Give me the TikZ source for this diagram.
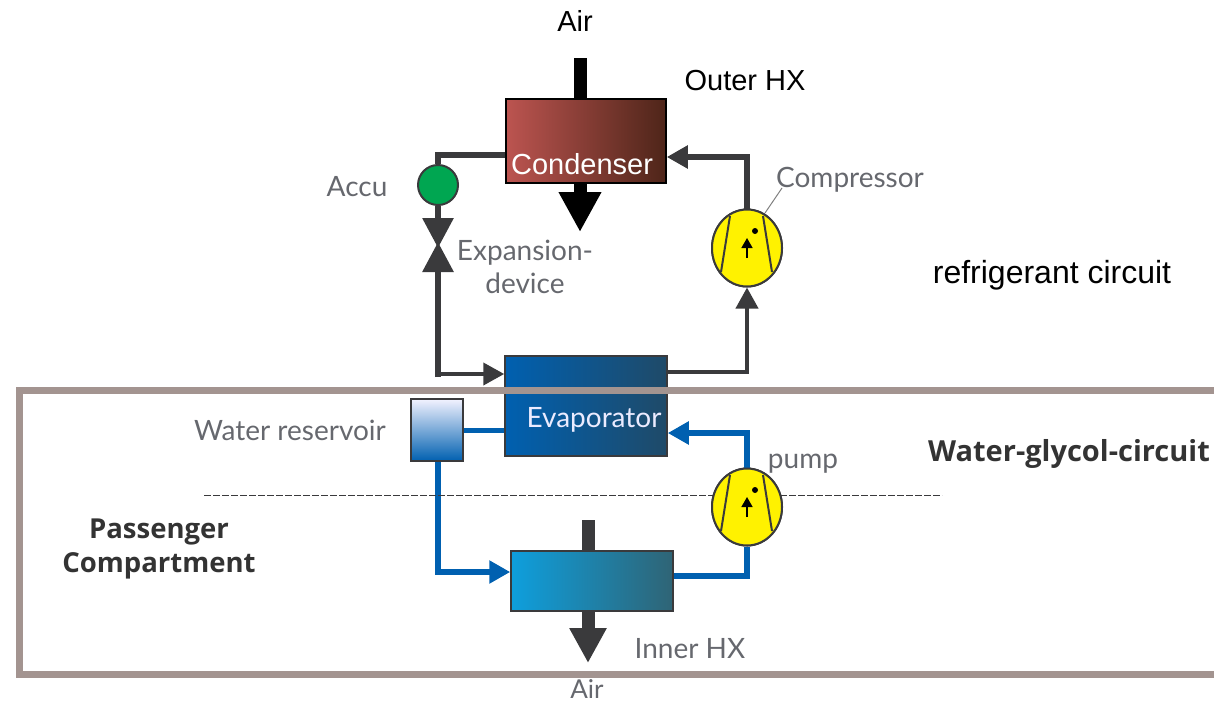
\documentclass[tikz,border=0pt]{standalone}
\usepackage{fontspec}
\setmainfont{Liberation Sans}
\newfontfamily\dinfont{Lato}
\newfontfamily\headfont{Open Sans}
\usetikzlibrary{arrows.meta,calc,positioning,shapes.geometric}
\definecolor{pipegray}{HTML}{3A3A3C}
\definecolor{pipeblue}{HTML}{0060B0}
\definecolor{framegray}{HTML}{A39490}
\definecolor{textgray}{HTML}{66686E}
\definecolor{condleft}{HTML}{BC5450}
\definecolor{condmid}{HTML}{7E2F2C}
\definecolor{condright}{HTML}{4E2519}
\definecolor{evapright}{HTML}{1F4A68}
\definecolor{innerleft}{HTML}{0E9FDD}
\definecolor{innerright}{HTML}{2F6475}
\definecolor{resmid}{HTML}{8C96CC}
\definecolor{pumpyellow}{HTML}{FFF200}
\definecolor{accugreen}{HTML}{00A651}
\tikzset{%
  hx/.style={rectangle,draw=#1,line width=1.5pt,inner sep=0pt,shading angle=90},
  circulator/.style={ellipse,draw=pipegray,line width=2pt,fill=pumpyellow,inner sep=0pt,minimum width=70pt,minimum height=77pt},
  pipe/.style={draw=pipegray,line width=6pt},
  thinpipe/.style={draw=pipegray,line width=4pt},
  bluepipe/.style={draw=pipeblue,line width=6pt},
  smalltip/.style={-{Triangle[length=21pt,width=22pt]}},
  valvetip/.style={-{Triangle[length=30pt,width=30pt]}},
  airstem/.style={line width=13pt},
  plain/.style={font=\fontsize{29}{32}\selectfont,text=black,inner sep=0pt},
  din/.style={font=\dinfont\fontsize{28}{33}\selectfont,text=textgray,inner sep=0pt,align=center},
  dinbold/.style={font=\headfont\bfseries\fontsize{27.5}{34}\selectfont,text=black!80,inner sep=0pt,align=center},
}

\begin{document}
\begin{tikzpicture}[x=1pt,y=-1pt]
      \useasboundingbox (0,0) rectangle (1214,702);

      % exchangers
      \node[hx=black,left color=condleft,middle color=condmid,right color=condright,minimum width=160pt,minimum height=84pt] (condenser) at (586,141) {};
      \node[hx=pipegray,left color=pipeblue,right color=evapright,minimum width=162pt,minimum height=100pt] (evaporator) at (586,406) {};
      \node[hx=pipegray,left color=innerleft,right color=innerright,minimum width=162pt,minimum height=60pt] (innerhx) at (592,581) {};
      \node[rectangle,draw=pipegray,line width=1.5pt,inner sep=0pt,top color=white!95!blue,middle color=resmid,bottom color=pipeblue,minimum width=52pt,minimum height=62pt] (reservoir) at (437,430) {};

      % other parts
      \node[circle,draw=pipegray,line width=2pt,fill=accugreen,inner sep=0pt,minimum size=40pt] (accu) at (438,185) {};
      \coordinate (valve) at (438,245);
      \coordinate (valvefoot) at (438,377);
      \coordinate (inletcorner) at (438,374);
      \node[circulator] (compressor) at (747,248) {};
      \node[circulator] (pump) at (747,507) {};

      % frame and free ends
      \coordinate (frametop) at (1214,390);
      \coordinate (frametopleft) at (19,390);
      \coordinate (framebotleft) at (19,674);
      \coordinate (framebot) at (1214,674);
      \coordinate (dashstart) at (204,495);
      \coordinate (dashend) at (942,495);
      \coordinate (outerin) at (580,58);
      \coordinate (outerout) at (580,232);
      \coordinate (innerin) at (588,520);
      \coordinate (innerout) at (588,663);

      % refrigerant circuit
      \draw[pipe] ([yshift=-14pt]condenser.west) -| (accu);
      \draw[pipe,valvetip] (accu) -- ([yshift=-3pt]valve);
      \draw[pipe,valvetip] (valvefoot) -- ([yshift=3pt]valve);
      \draw[thinpipe,smalltip] (inletcorner) -- ([yshift=32pt]evaporator.west);
      \draw[thinpipe,smalltip] ([yshift=34pt]evaporator.east) -| (compressor);
      \draw[pipe,smalltip] (compressor) |- ([yshift=-16pt]condenser.east);

      % water circuit
      \draw[bluepipe,line width=5pt] (reservoir.east) -- (reservoir.east -| evaporator.west);
      \draw[bluepipe,smalltip] (valve |- reservoir.south) |- ([yshift=9pt]innerhx.west);
      \draw[bluepipe] ([yshift=5pt]innerhx.east) -| (pump);
      \draw[bluepipe,smalltip] (pump) |- ([yshift=-27pt]evaporator.east);

      % air
      \draw[airstem] (outerin) -- (outerin |- condenser.north);
      \draw[airstem,-{Triangle[length=40pt,width=40pt]}] (outerin |- condenser.south) -- (outerout);
      \draw[airstem,draw=pipegray] (innerin) -- (innerin |- innerhx.north);
      \draw[airstem,draw=pipegray,-{Triangle[length=35pt,width=35pt]}] (innerin |- innerhx.south) -- (innerout);

      \draw[framegray,line width=7pt] (frametop) -- (frametopleft) -- (framebotleft) -- (framebot);
      \draw[pipegray,line width=1pt,dash pattern=on 7pt off 2pt] (dashstart) -- (dashend);

      % circulator symbols
      \foreach \unit in {compressor,pump}{
        \begin{scope}[shift={(\unit)}]
          \node[circulator] at (0,0) {};
          \draw[pipegray,line width=2pt] (-17,-32) -- (-26,24);
          \draw[pipegray,line width=2pt] (16,-32) -- (25,24);
          \fill[black] (8,-17) circle (3pt);
          \draw[black,line width=1.5pt,-{Triangle[length=10pt,width=11pt]}] (0,10) -- (0,-10);
        \end{scope}
      }
      \draw[gray,line width=1pt] (765,213) -- (782,188);

      % labels
      \node[plain] (airtop) at (575,21) {Air};
      \node[plain] (outerlabel) at (745,81) {Outer HX};
      \node[plain,text=white] (condenserlabel) at (582,164) {Condenser};
      \node[plain,font=\fontsize{32}{36}\selectfont] (refrigerant) at (1052,275) {refrigerant circuit};
      \node[din] (acculabel) at (357,187) {Accu};
      \node[din] (expansion) at (525,267) {Expansion-\\device};
      \node[din] (compressorlabel) at (850,180) {Compressor};
      \node[din,text=white!92!blue] (evaporatorlabel) at (594,420) {Evaporator};
      \node[din] (reservoirlabel) at (290,430) {Water reservoir};
      \node[din] (pumplabel) at (803,464) {pump};
      \node[din] (innerlabel) at (690,649) {Inner HX};
      \node[din,font=\dinfont\fontsize{26}{33}\selectfont] (airbottom) at (587,689) {Air};
      \node[dinbold,font=\headfont\bfseries\fontsize{29}{34}\selectfont] (glycol) at (1069,454) {Water-glycol-circuit};
      \node[dinbold] (passenger) at (159,549) {Passenger\\Compartment};
    \end{tikzpicture}
\end{document}
